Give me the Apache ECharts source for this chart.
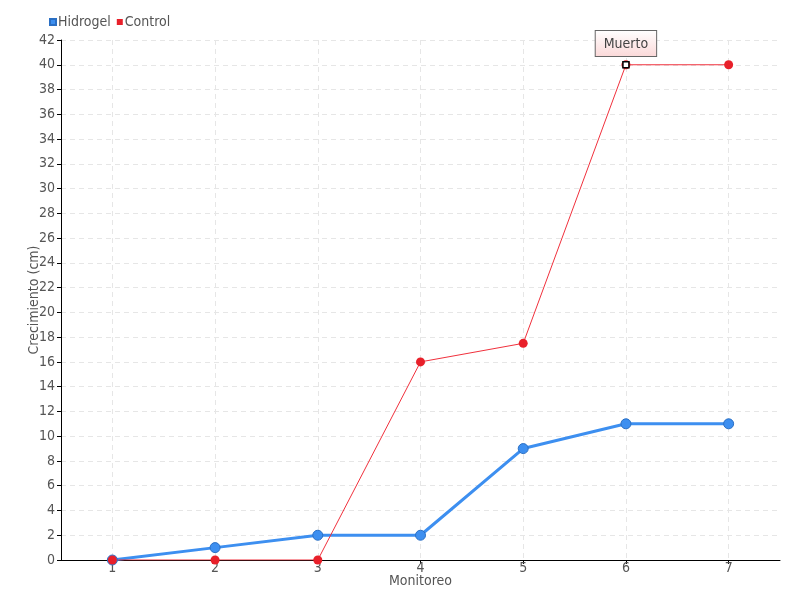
<!DOCTYPE html>
<html><head><meta charset="utf-8">
<script src="https://cdn.jsdelivr.net/npm/echarts@6/dist/echarts.min.js"></script>
<style>html,body{margin:0;padding:0;background:#fff}#c{width:800px;height:600px}</style>
</head><body><div id="c"></div>
<script>
var categories = [1, 2, 3, 4, 5, 6, 7];
var hidrogel = [0, 1, 2, 2, 9, 11, 11];
var control = [0, 0, 0, 16, 17.5, 40, 40];
var yTicks = [0, 2, 4, 6, 8, 10, 12, 14, 16, 18, 20, 22, 24, 26, 28, 30, 32, 34, 36, 38, 40, 42];
var noteIndex = 5;
var noteText = 'Muerto';

var font = 'DejaVu Sans Condensed, DejaVu Sans, sans-serif';
var chart = echarts.init(document.getElementById('c'), null, {renderer: 'canvas'});
function pts(arr) { return categories.map(function (c, i) { return [c, arr[i]]; }); }
chart.setOption({
  animation: false,
  textStyle: {fontFamily: font},
  legend: {
    left: 44, top: 10, itemWidth: 6, itemHeight: 6, itemGap: 6,
    icon: 'rect',
    textStyle: {color: '#555', fontSize: 14, fontFamily: font, padding: [0, 0, 0, -3]},
    data: ['Hidrogel', 'Control']
  },
  grid: {left: 61, right: 20, top: 40, bottom: 40, containLabel: false},
  xAxis: {
    type: 'value', min: 0.5, max: 7.5,
    name: 'Monitoreo', nameLocation: 'middle', nameGap: 14, nameMoveOverlap: false,
    nameTextStyle: {color: '#555', fontSize: 14, fontFamily: font},
    axisLine: {lineStyle: {color: '#000'}},
    axisTick: {show: true, customValues: categories, length: 4, inside: false, lineStyle: {color: '#000'}},
    axisLabel: {customValues: categories, color: '#555', fontSize: 14, margin: 1, fontFamily: font},
    splitLine: {show: true, lineStyle: {color: '#e6e6e6', type: [5, 4], width: 1}}
  },
  yAxis: {
    type: 'value', min: 0, max: 42, interval: 2,
    name: 'Crecimiento (cm)', nameLocation: 'middle', nameGap: 20, nameMoveOverlap: false,
    nameTextStyle: {color: '#555', fontSize: 14, fontFamily: font},
    axisLine: {show: true, lineStyle: {color: '#000'}},
    axisTick: {show: true, length: 4, lineStyle: {color: '#000'}},
    axisLabel: {color: '#555', fontSize: 14, margin: 6, fontFamily: font},
    splitLine: {show: true, lineStyle: {color: '#e6e6e6', type: [5, 4], width: 1}}
  },
  series: [
    {
      name: 'Hidrogel', type: 'line', data: pts(hidrogel),
      symbol: 'circle', symbolSize: 10,
      lineStyle: {color: '#3d8ff0', width: 3},
      itemStyle: {color: '#3d8ff0', borderColor: '#2a6fc4', borderWidth: 1}
    },
    {
      name: 'Control', type: 'line', data: pts(control),
      symbol: 'circle', symbolSize: 9,
      lineStyle: {color: '#f0303c', width: 1},
      itemStyle: {color: '#e8202a', borderColor: '#e8202a', borderWidth: 0},
      markPoint: {
        symbol: 'rect', symbolSize: 6,
        itemStyle: {color: '#fff', borderColor: '#000', borderWidth: 1.5},
        label: {
          show: true, position: 'top', distance: 5, formatter: noteText,
          color: '#444', fontSize: 14, fontFamily: font,
          backgroundColor: {type: 'linear', x: 0, y: 0, x2: 0, y2: 1,
            colorStops: [{offset: 0, color: '#fff'}, {offset: 1, color: '#fbd8d8'}]},
          borderColor: '#666', borderWidth: 1, padding: [6, 8, 5, 8]
        },
        data: [{coord: [categories[noteIndex], control[noteIndex]]}]
      }
    }
  ]
});
</script></body></html>
